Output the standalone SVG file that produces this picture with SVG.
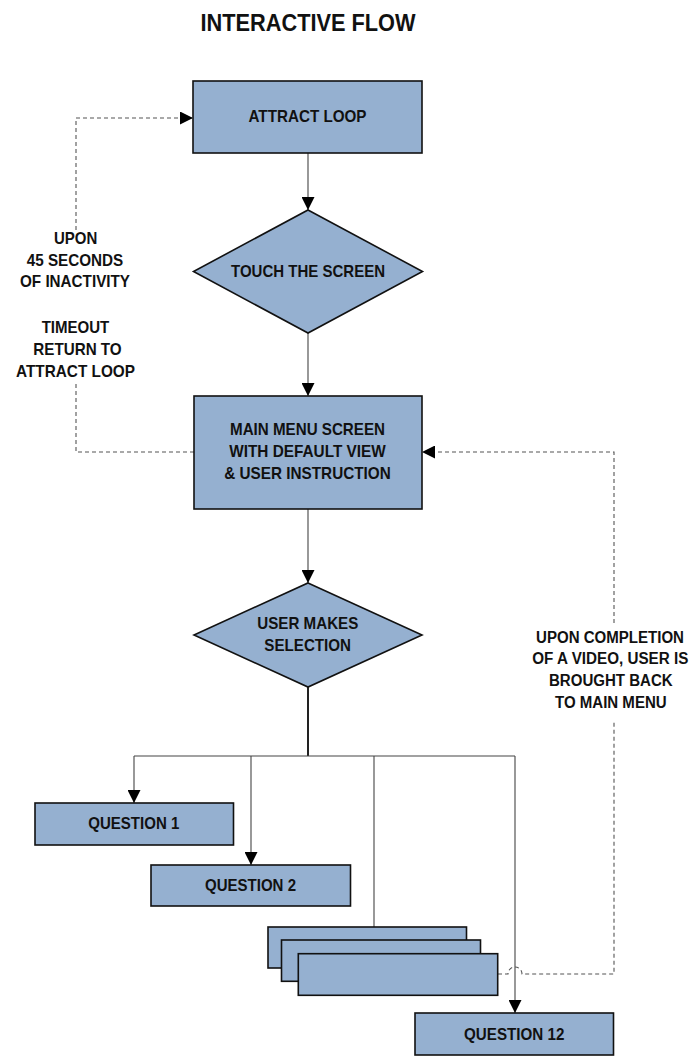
<svg xmlns="http://www.w3.org/2000/svg" width="693" height="1057" viewBox="0 0 693 1057">
<style>
.box{fill:#95B0D0;stroke:#111;stroke-width:1.6}
.t{font-family:"Liberation Sans",Arial,sans-serif;font-weight:bold;font-size:17px;fill:#111;text-anchor:middle}
.title{font-family:"Liberation Sans",Arial,sans-serif;font-weight:bold;font-size:24px;fill:#111;text-anchor:middle}
.ln{fill:none;stroke:#444;stroke-width:1.1}
.dash{fill:none;stroke:#555;stroke-width:1.1;stroke-dasharray:4,3}
</style>
<defs>
<marker id="ah" markerUnits="userSpaceOnUse" markerWidth="13" markerHeight="13" refX="13" refY="6.5" orient="auto">
<path d="M0,0 L13,6.5 L0,13 z" fill="#000"/>
</marker>
</defs>
<rect width="693" height="1057" fill="#fff"/>
<text class="title" x="308" y="31" textLength="215" lengthAdjust="spacingAndGlyphs">INTERACTIVE FLOW</text>

<g id="connectors">
<line class="ln" x1="308" y1="153" x2="308" y2="210" marker-end="url(#ah)"/>
<line class="ln" x1="308" y1="333" x2="308" y2="396" marker-end="url(#ah)"/>
<line class="ln" x1="308" y1="509" x2="308" y2="583" marker-end="url(#ah)"/>
<line class="ln" x1="308" y1="687" x2="308" y2="756" style="stroke:#222;stroke-width:2"/>
<line class="ln" x1="134" y1="756" x2="515" y2="756"/>
<line class="ln" x1="134" y1="756" x2="134" y2="803" marker-end="url(#ah)"/>
<line class="ln" x1="251" y1="756" x2="251" y2="865" marker-end="url(#ah)"/>
<line class="ln" x1="374" y1="756" x2="374" y2="927"/>
<line class="ln" x1="515" y1="756" x2="515" y2="1013" marker-end="url(#ah)"/>
<path class="dash" d="M194,452 H76 V384"/>
<path class="dash" d="M76,230 V118 H193" marker-end="url(#ah)"/>
<path class="dash" d="M498,974 H508 A7,7 0 0 1 522,974 H614 V720"/>
<path class="dash" d="M614,623 V452 H422" marker-end="url(#ah)"/>
</g>

<g id="attract-loop">
<rect class="box" x="193" y="81" width="229" height="72"/>
<text class="t" x="307.5" y="122.3" textLength="118" lengthAdjust="spacingAndGlyphs">ATTRACT LOOP</text>
</g>

<g id="touch-screen">
<polygon class="box" points="308,210 422.5,271.5 308,333 193.5,271.5"/>
<text class="t" x="308" y="276.7" textLength="154" lengthAdjust="spacingAndGlyphs">TOUCH THE SCREEN</text>
</g>

<g id="main-menu">
<rect class="box" x="194" y="396" width="228" height="113"/>
<text class="t" x="307.5" y="435" textLength="155" lengthAdjust="spacingAndGlyphs">MAIN MENU SCREEN</text>
<text class="t" x="307.5" y="457.3" textLength="156.5" lengthAdjust="spacingAndGlyphs">WITH DEFAULT VIEW</text>
<text class="t" x="307.5" y="479.3" textLength="166.5" lengthAdjust="spacingAndGlyphs">&amp; USER INSTRUCTION</text>
</g>

<g id="user-selection">
<polygon class="box" points="308,583 422,635 308,687 194,635"/>
<text class="t" x="307.8" y="629.3" textLength="101" lengthAdjust="spacingAndGlyphs">USER MAKES</text>
<text class="t" x="307.7" y="650.7" textLength="86.7" lengthAdjust="spacingAndGlyphs">SELECTION</text>
</g>

<g id="question-1">
<rect class="box" x="35" y="803" width="198.5" height="42"/>
<text class="t" x="133.8" y="829.3" textLength="91" lengthAdjust="spacingAndGlyphs">QUESTION 1</text>
</g>

<g id="question-2">
<rect class="box" x="151" y="865" width="199.5" height="41"/>
<text class="t" x="250.5" y="891.3" textLength="91" lengthAdjust="spacingAndGlyphs">QUESTION 2</text>
</g>

<g id="question-stack">
<rect class="box" x="268" y="927" width="198.5" height="41"/>
<rect class="box" x="281.5" y="940" width="199" height="41.3"/>
<rect class="box" x="298.3" y="953.7" width="199.4" height="41.6"/>
</g>

<g id="question-12">
<rect class="box" x="415" y="1013" width="198.5" height="42"/>
<text class="t" x="514.2" y="1040" textLength="100.3" lengthAdjust="spacingAndGlyphs">QUESTION 12</text>
</g>

<g id="label-timeout">
<text class="t" x="75.7" y="244" textLength="43.3" lengthAdjust="spacingAndGlyphs">UPON</text>
<text class="t" x="75" y="265.7" textLength="96.6" lengthAdjust="spacingAndGlyphs">45 SECONDS</text>
<text class="t" x="75" y="287.3" textLength="110" lengthAdjust="spacingAndGlyphs">OF INACTIVITY</text>
<text class="t" x="75.5" y="332.7" textLength="67.6" lengthAdjust="spacingAndGlyphs">TIMEOUT</text>
<text class="t" x="77.5" y="355" textLength="88.4" lengthAdjust="spacingAndGlyphs">RETURN TO</text>
<text class="t" x="75.5" y="376.7" textLength="119" lengthAdjust="spacingAndGlyphs">ATTRACT LOOP</text>
</g>

<g id="label-completion">
<text class="t" transform="translate(610,642.7) scale(0.885,1)">UPON COMPLETION</text>
<text class="t" transform="translate(610.3,664.3) scale(0.895,1)">OF A VIDEO, USER IS</text>
<text class="t" transform="translate(610.8,686) scale(0.885,1)">BROUGHT BACK</text>
<text class="t" transform="translate(610.8,707.7) scale(0.885,1)">TO MAIN MENU</text>
</g>
</svg>
